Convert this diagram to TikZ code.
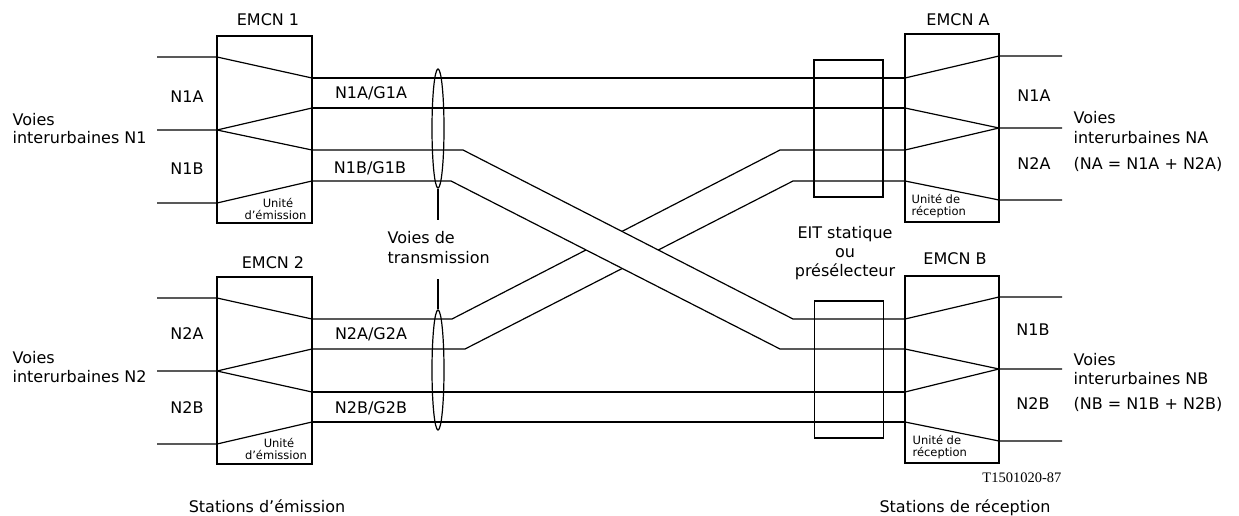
\documentclass[tikz,border=0pt]{standalone}
\usepackage{fontspec}
\setmainfont{DejaVu Sans}
\newfontfamily\serifT{Liberation Serif}
\usetikzlibrary{shapes.geometric}
\begin{document}
\begin{tikzpicture}[x=1pt,y=-1pt,line width=1.2pt,
  boxnode/.style={draw,inner sep=0pt,line width=1.2pt},
  lab/.style={inner sep=0pt,anchor=base,font=\fontsize{16}{19}\selectfont},
  labw/.style={lab,anchor=base west},
  sm/.style={inner sep=0pt,anchor=base,font=\fontsize{11.5}{13}\selectfont},
  smw/.style={sm,anchor=base west},
  ring/.style={draw,ellipse,inner sep=0pt,minimum width=12pt,line width=1.2pt}]
\useasboundingbox (0,0) rectangle (1239,516);

% ---------- boxes ----------
\node[boxnode,minimum width=95pt,minimum height=187pt] (e1) at (264.5,129.5) {};
\node[boxnode,minimum width=95pt,minimum height=187pt] (e2) at (264.5,370.5) {};
\node[boxnode,minimum width=94pt,minimum height=188pt] (ra) at (952,128) {};
\node[boxnode,minimum width=94pt,minimum height=187pt] (rb) at (952,369.5) {};
\node[boxnode,minimum width=69pt,minimum height=137pt] (t1) at (848.5,128.5) {};
\node[boxnode,minimum width=69pt,minimum height=137pt] (t2) at (849,369.5) {};

% ---------- emission / reception units ----------
\foreach \d/\n in {0/1,241/2}{
  \coordinate (a\n) at (157,{57+\d});  \coordinate (ia\n) at (217,{57+\d});
  \coordinate (b\n) at (157,{130+\d}); \coordinate (ib\n) at (217,{130+\d});
  \coordinate (c\n) at (157,{203+\d}); \coordinate (ic\n) at (217,{203+\d});
  \coordinate (r\n a) at (999,{56+\d});  \coordinate (o\n a) at (1062,{56+\d});
  \coordinate (r\n b) at (999,{128+\d}); \coordinate (o\n b) at (1062,{128+\d});
  \coordinate (r\n c) at (999,{200+\d}); \coordinate (o\n c) at (1062,{200+\d});
}
% left outputs / right inputs
\foreach \k/\yy in {1/78,2/108,3/150,4/181,5/319,6/349,7/392,8/422}{
  \coordinate (lo\k) at (312,\yy);
  \coordinate (ri\k) at (905,\yy);
}
% bends of the crossing lines
\coordinate (b3a) at (463,150); \coordinate (b3b) at (793,319);
\coordinate (b4a) at (451,181); \coordinate (b4b) at (780,349);
\coordinate (b5a) at (452,319); \coordinate (b5b) at (780,150);
\coordinate (b6a) at (465,349); \coordinate (b6b) at (793,181);

% left units
\draw (a1) -- (ia1) -- (lo1);
\draw (b1) -- (ib1) -- (lo2);
\draw (ib1) -- (lo3);
\draw (c1) -- (ic1) -- (lo4);
\draw (a2) -- (ia2) -- (lo5);
\draw (b2) -- (ib2) -- (lo6);
\draw (ib2) -- (lo7);
\draw (c2) -- (ic2) -- (lo8);

% right units
\draw (ri1) -- (r1a) -- (o1a);
\draw (ri2) -- (r1b) -- (o1b);
\draw (ri3) -- (r1b);
\draw (ri4) -- (r1c) -- (o1c);
\draw (ri5) -- (r2a) -- (o2a);
\draw (ri6) -- (r2b) -- (o2b);
\draw (ri7) -- (r2b);
\draw (ri8) -- (r2c) -- (o2c);

% transmission paths
\draw (lo1) -- (ri1);
\draw (lo2) -- (ri2);
\draw (lo7) -- (ri7);
\draw (lo8) -- (ri8);
\draw (lo5) -- (b5a) -- (b5b) -- (ri3);
\draw (lo6) -- (b6a) -- (b6b) -- (ri4);
\fill[white] (b3a) -- (b3b) -- (b4b) -- (b4a) -- cycle;
\draw (lo3) -- (b3a) -- (b3b) -- (ri5);
\draw (lo4) -- (b4a) -- (b4b) -- (ri6);

% ellipses
\node[ring,minimum height=119pt] (el1) at (438,128.5) {};
\coordinate (tl1) at (438,220);
\draw (el1.south) -- (tl1);
\node[ring,minimum height=120pt] (el2) at (438,370) {};
\coordinate (tl2) at (438,279);
\draw (el2.north) -- (tl2);

% ---------- texts ----------
\node[lab] (tE1) at (268,26) {EMCN 1};
\node[lab] (tE2) at (273,268) {EMCN 2};
\node[lab] (tEA) at (958,26) {EMCN A};
\node[lab] (tEB) at (955,264) {EMCN B};

\node[lab] (tl1a) at (187,103) {N1A};
\node[lab] (tl1b) at (187,174) {N1B};
\node[lab] (tl2a) at (187,339) {N2A};
\node[lab] (tl2b) at (187,413) {N2B};

\node[labw] (v1a) at (12,125) {Voies};
\node[labw] (v1b) at (12,143) {interurbaines N1};
\node[labw] (v2a) at (12,363) {Voies};
\node[labw] (v2b) at (12,382) {interurbaines N2};

\node[lab] (g1a) at (371,99) {N1A/G1A};
\node[lab] (g1b) at (370,173) {N1B/G1B};
\node[lab] (g2a) at (371,339) {N2A/G2A};
\node[lab] (g2b) at (371,413) {N2B/G2B};

\node[labw] (vt1) at (387,243) {Voies de};
\node[labw] (vt2) at (387,263) {transmission};

\node[lab] (eit1) at (845,238) {EIT statique};
\node[lab] (eit2) at (845,257) {ou};
\node[lab] (eit3) at (845,276) {présélecteur};

\node[lab] (tr1a) at (1034,102) {N1A};
\node[lab] (tr2a) at (1034,169) {N2A};
\node[lab] (tr1b) at (1033,335) {N1B};
\node[lab] (tr2b) at (1033,409) {N2B};

\node[labw] (vaa) at (1073,124) {Voies};
\node[labw] (vab) at (1073,143) {interurbaines NA};
\node[labw] (vac) at (1073,169) {(NA = N1A + N2A)};
\node[labw] (vba) at (1073,365) {Voies};
\node[labw] (vbb) at (1073,384) {interurbaines NB};
\node[labw] (vbc) at (1073,409) {(NB = N1B + N2B)};

\node[sm] (u1a) at (278,207) {Unité};
\node[sm] (u1b) at (275.5,219) {d’émission};
\node[sm] (u2a) at (279,447) {Unité};
\node[sm] (u2b) at (276,459) {d’émission};
\node[smw] (ura1) at (911,203) {Unité de};
\node[smw] (ura2) at (911,215) {réception};
\node[smw] (urb1) at (912,444) {Unité de};
\node[smw] (urb2) at (912,456) {réception};

\node[inner sep=0pt,anchor=base east,font=\serifT\fontsize{14.5}{16}\selectfont] (ref) at (1062,482) {T1501020-87};

\node[lab] (se) at (267,512) {Stations d’émission};
\node[lab] (sr) at (965,512) {Stations de réception};
\end{tikzpicture}
\end{document}
